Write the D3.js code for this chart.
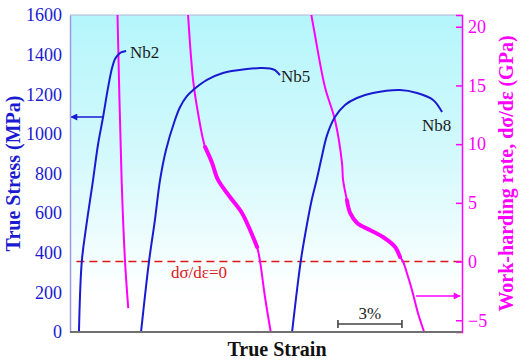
<!DOCTYPE html>
<html><head><meta charset="utf-8">
<script src="https://cdn.jsdelivr.net/npm/d3@7/dist/d3.min.js"></script>
<style>body{margin:0;background:#fff}svg{display:block}</style>
</head><body>
<svg id="c" width="528" height="364"></svg>
<script>
// ---- data (strain in %, curves shifted horizontally as in the figure) ----
const seriesNames = ["Nb2", "Nb5", "Nb8"];
const nb2Strain = [0.42,0.55,0.75,1.08,1.31,1.55,1.78,1.97,2.11,2.25,2.39,2.63];
const nb2Stress = [0,353,525,767,944,1085,1231,1332,1378,1398,1411,1418];
const nb5Strain = [3.33,3.70,3.98,4.22,4.50,4.92,5.16,5.48,5.77,6.42,7.17,8.30,8.91,9.38,9.61,9.84];
const nb5Stress = [0,353,565,767,919,1070,1136,1191,1221,1272,1307,1327,1332,1330,1322,1297];
const nb8Strain = [10.41,10.81,11.06,11.33,11.56,11.77,12.05,12.42,12.89,13.45,14.20,15.47,16.27,17.02,17.44];
const nb8Stress = [0,353,515,666,767,868,994,1085,1146,1181,1206,1221,1206,1171,1110];

const nb2WhrStrain = [2.21,2.42,2.58,2.73];
const nb2Whr = [22.3,6.95,0,-3.96];
const nb5WhrStrain = [5.49,5.77,6.00,6.33,6.66,6.94,7.50,8.06,8.44,8.77,8.91,9.14,9.41];
const nb5Whr = [22.28,15.47,12.65,9.76,8.40,6.95,5.50,4.14,2.69,1.24,0,-3.02,-6];
const nb8WhrStrain = [11.27,11.44,11.95,12.42,12.75,12.80,12.98,13.13,13.46,14.06,14.67,15.24,15.47,15.61,15.85,16.03,16.31,16.60];
const nb8Whr = [21.43,19.72,14.87,12.06,8.40,6.95,5.24,4.14,3.28,2.69,2.09,1.24,0.39,0,-1.32,-2.42,-4.38,-6];
// strain ranges where the measured work-hardening rate is noisy
const noiseRanges = [null, [6.10, 8.80], [12.95, 15.50]];

const stressTicks = [0,200,400,600,800,1000,1200,1400,1600];
const whrTicks = [-5,0,5,10,15,20];
const stressArrowValue = 1085, stressArrowFrom = 1.55;
const whrArrowValue = -2.93, whrArrowFrom = 16.22;
const scaleBarStart = 12.56, scaleBarLength = 3;

// ---- layout ----
const L = 70, R = 462, T = 15, B = 332;
const svg = d3.select("#c");
const x = d3.scaleLinear().domain([0, 18.375]).range([L, R]);
const yS = d3.scaleLinear().domain([0, 1600]).range([B, T]);
const yW = d3.scaleLinear().domain([-6, 21]).range([B, T]);

const defs = svg.append("defs");
const g = defs.append("linearGradient").attr("id","bg").attr("x1",0).attr("y1",0).attr("x2",0).attr("y2",1);
g.append("stop").attr("offset","0%").attr("stop-color","#b4f6fb");
g.append("stop").attr("offset","45%").attr("stop-color","#d4f9fc");
g.append("stop").attr("offset","88%").attr("stop-color","#ffffff");
defs.append("clipPath").attr("id","clip").append("rect").attr("x",L).attr("y",T).attr("width",R-L).attr("height",B-T);
const mk = (id, col) => defs.append("marker").attr("id",id).attr("viewBox","0 0 10 10").attr("refX",9).attr("refY",5)
  .attr("markerWidth",10).attr("markerHeight",7).attr("markerUnits","userSpaceOnUse").attr("orient","auto")
  .append("path").attr("d","M0,0L10,5L0,10z").attr("fill",col);
mk("ab","#1a1ad0"); mk("ap","#ff00ff");

svg.append("rect").attr("x",L).attr("y",T).attr("width",R-L).attr("height",B-T).attr("fill","url(#bg)");
svg.append("line").attr("x1",L).attr("x2",R).attr("y1",T).attr("y2",T).attr("stroke","#b0b8d0").attr("stroke-width",1);

const serif = "Liberation Serif, Times New Roman, serif";
const blue = "#1a1ad0", pink = "#ff00ff";
const plot = svg.append("g").attr("clip-path","url(#clip)");

// zero line of work-hardening rate
plot.append("line").attr("x1",x(0.3)).attr("x2",R).attr("y1",yW(0)).attr("y2",yW(0))
  .attr("stroke","#e01818").attr("stroke-width",1.6).attr("stroke-dasharray","8,5");

const stressCurves = [[nb2Strain,nb2Stress],[nb5Strain,nb5Stress],[nb8Strain,nb8Stress]];
const whrCurves = [[nb2WhrStrain,nb2Whr],[nb5WhrStrain,nb5Whr],[nb8WhrStrain,nb8Whr]];
const lineS = d3.line().x(d=>x(d[0])).y(d=>yS(d[1])).curve(d3.curveCatmullRom.alpha(0.5));
const lineW = d3.line().x(d=>x(d[0])).y(d=>yW(d[1])).curve(d3.curveCatmullRom.alpha(0.5));

whrCurves.forEach(([s,v],i) => {
  const pts = s.map((d,k)=>[d,v[k]]);
  plot.append("path").attr("d",lineW(pts)).attr("fill","none").attr("stroke",pink).attr("stroke-width",2);
  const nr = noiseRanges[i];
  if (nr) {
    const sub = pts.filter(p => p[0] >= nr[0] && p[0] <= nr[1]);
    plot.append("path").attr("d",lineW(sub)).attr("fill","none").attr("stroke",pink)
      .attr("stroke-width",4).attr("stroke-linecap","round");
  }
});
stressCurves.forEach(([s,v]) => {
  const pts = s.map((d,k)=>[d,v[k]]);
  plot.append("path").attr("d",lineS(pts)).attr("fill","none").attr("stroke",blue).attr("stroke-width",2);
});

// arrows
svg.append("line").attr("x1",x(stressArrowFrom)).attr("x2",L+1).attr("y1",yS(stressArrowValue)).attr("y2",yS(stressArrowValue))
  .attr("stroke",blue).attr("stroke-width",1.6).attr("marker-end","url(#ab)");
svg.append("line").attr("x1",x(whrArrowFrom)).attr("x2",R-2).attr("y1",yW(whrArrowValue)).attr("y2",yW(whrArrowValue))
  .attr("stroke",pink).attr("stroke-width",1.6).attr("marker-end","url(#ap)");

// series labels
const labelPos = [[nb2Strain, nb2Stress, 4, 7], [nb5Strain, nb5Stress, 1, 7], [nb8Strain, nb8Stress, -20, 19]];
labelPos.forEach(([s,v,dx,dy],i) => {
  const n = s.length-1;
  svg.append("text").attr("x",x(s[n])+dx).attr("y",yS(v[n])+dy).text(seriesNames[i])
    .style("font-family",serif).attr("font-size",17).attr("fill","#1a1a1a");
});

svg.append("text").attr("x",199).attr("y",yW(0)+16).attr("text-anchor","middle").text("dσ/dε=0")
  .style("font-family",serif).attr("font-size",17).attr("fill","#e01818");

// scale bar
const sb = svg.append("g").attr("stroke","#444").attr("stroke-width",1.6);
const sby = 324;
sb.append("line").attr("x1",x(scaleBarStart)).attr("x2",x(scaleBarStart+scaleBarLength)).attr("y1",sby).attr("y2",sby);
sb.append("line").attr("x1",x(scaleBarStart)).attr("x2",x(scaleBarStart)).attr("y1",sby-4).attr("y2",sby+4);
sb.append("line").attr("x1",x(scaleBarStart+scaleBarLength)).attr("x2",x(scaleBarStart+scaleBarLength)).attr("y1",sby-4).attr("y2",sby+4);
svg.append("text").attr("x",x(scaleBarStart+scaleBarLength/2)).attr("y",sby-5).attr("text-anchor","middle").text("3%")
  .style("font-family",serif).attr("font-size",17).attr("fill","#222");

// axes
const ax = svg.append("g").attr("transform",`translate(${L},0)`)
  .call(d3.axisLeft(yS).tickValues(stressTicks).tickFormat(d3.format("d")).tickSize(0).tickPadding(8));
ax.select(".domain").attr("stroke","#9a9ae0").attr("stroke-width",1.5);
ax.selectAll("text").style("font-family",serif).attr("font-size",18).attr("fill","#1a1ad0");

const ar = svg.append("g").attr("transform",`translate(${R},0)`)
  .call(d3.axisRight(yW).tickValues(whrTicks).tickFormat(d3.format("d")).tickSize(-6).tickPadding(6));
ar.select(".domain").attr("stroke",pink).attr("stroke-width",1.5);
ar.selectAll(".tick line").attr("stroke",pink).attr("stroke-width",1.5);
ar.selectAll("text").style("font-family",serif).attr("font-size",18).attr("fill",pink);

svg.append("line").attr("x1",L).attr("x2",R).attr("y1",B).attr("y2",B).attr("stroke","#707070").attr("stroke-width",2);

// titles
svg.append("text").attr("transform",`translate(20,${(T+B)/2}) rotate(-90)`).attr("text-anchor","middle")
  .text("True Stress (MPa)").style("font-family",serif).attr("font-weight","bold").attr("font-size",20).attr("fill","#1a1ad0");
svg.append("text").attr("transform",`translate(513,${(T+B)/2}) rotate(-90)`).attr("text-anchor","middle")
  .text("Work-harding rate, dσ/dε (GPa)").style("font-family",serif).attr("font-weight","bold").attr("font-size",20).attr("fill",pink);
svg.append("text").attr("x",277).attr("y",356).attr("text-anchor","middle").text("True Strain")
  .style("font-family",serif).attr("font-weight","bold").attr("font-size",20).attr("fill","#111");
</script>
</body></html>
